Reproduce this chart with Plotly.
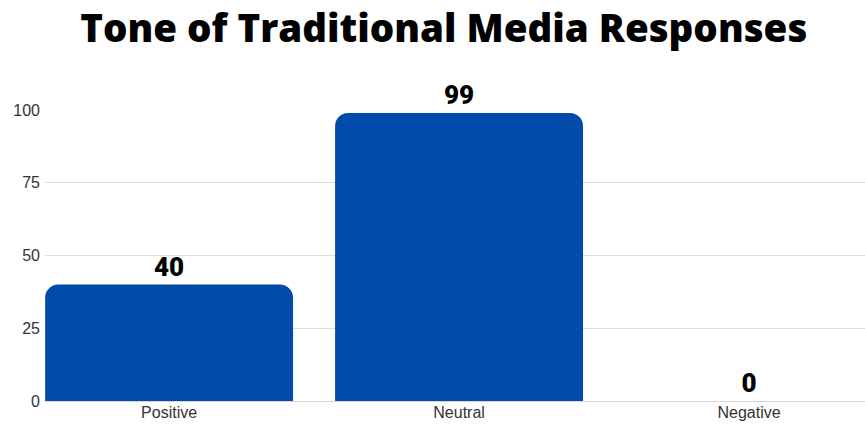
import plotly.graph_objects as go

# Response tone counts
tones = ["Positive", "Neutral", "Negative"]
counts = [40, 99, 0]
y_ticks = [0, 25, 50, 75, 100]

BAR_BLUE = "#024BAA"
LABEL_GREY = "#333333"

fig = go.Figure(
    go.Bar(
        x=tones,
        y=counts,
        width=0.855,
        marker=dict(color=BAR_BLUE, line=dict(width=0)),
        text=[str(v) for v in counts],
        textposition="outside",
        textfont=dict(family="Roboto", size=26, color="#000000", weight=900),
        cliponaxis=False,
    )
)

fig.update_layout(
    width=865,
    height=424,
    margin=dict(l=45, r=0, t=110, b=23),
    paper_bgcolor="white",
    plot_bgcolor="white",
    barcornerradius=13,
    showlegend=False,
    title=dict(
        text="Tone of Traditional Media Responses",
        xref="container",
        x=0.513,
        xanchor="center",
        yref="container",
        y=0.932,
        yanchor="middle",
        font=dict(family="Open Sans", size=38.5, color="#000000", weight=800),
    ),
    font=dict(family="Liberation Sans", size=16, color=LABEL_GREY),
)

fig.update_xaxes(
    range=[-0.428, 2.4],
    showgrid=False,
    showline=True,
    linecolor="#d6d6d6",
    linewidth=1,
    ticks="",
    ticklabelstandoff=-3,
    tickfont=dict(family="Liberation Sans", size=16, color=LABEL_GREY),
)

fig.update_yaxes(
    range=[0, 100],
    tickvals=y_ticks,
    showgrid=True,
    gridcolor="#dcdcdc",
    gridwidth=1,
    zeroline=False,
    ticks="",
    ticklabelstandoff=4,
    tickfont=dict(family="Liberation Sans", size=16, color=LABEL_GREY),
)

fig.write_html("out.html")
